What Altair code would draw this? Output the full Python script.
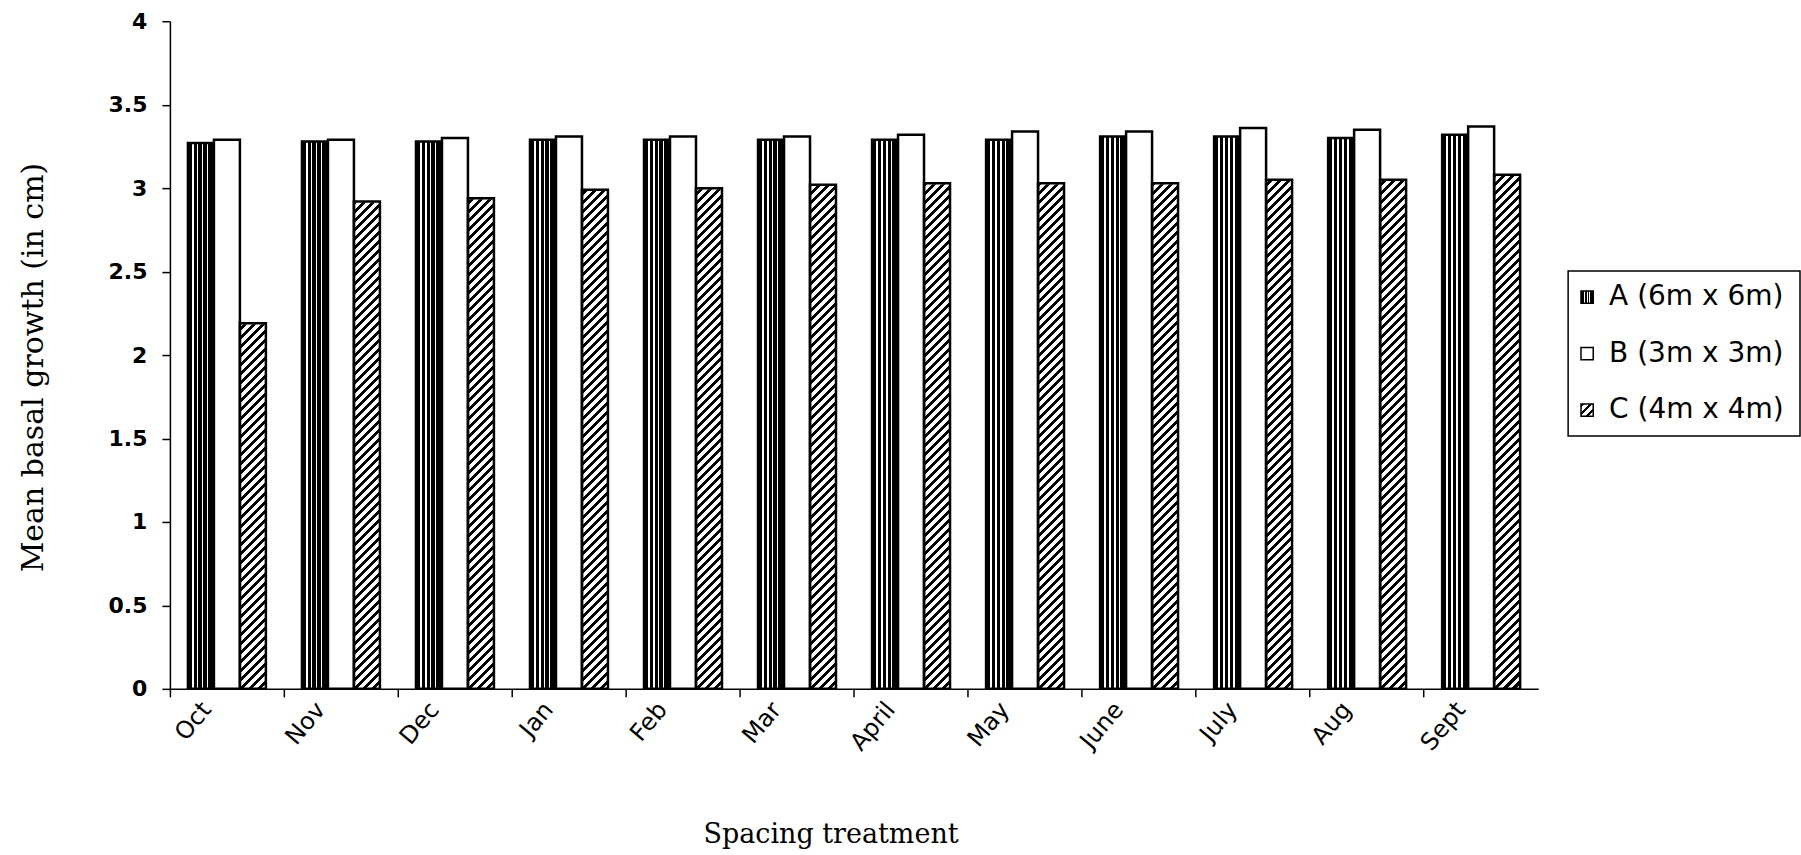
import altair as alt
import pandas as pd

# ---------------- data ----------------
months = ["Oct", "Nov", "Dec", "Jan", "Feb", "Mar", "April", "May", "June", "July", "Aug", "Sept"]
series_keys = ["A", "B", "C"]
series_labels = ["A (6m x 6m)", "B (3m x 3m)", "C (4m x 4m)"]
values_A = [3.27, 3.28, 3.28, 3.29, 3.29, 3.29, 3.29, 3.29, 3.31, 3.31, 3.30, 3.32]
values_B = [3.29, 3.29, 3.30, 3.31, 3.31, 3.31, 3.32, 3.34, 3.34, 3.36, 3.35, 3.37]
values_C = [2.19, 2.92, 2.94, 2.99, 3.00, 3.02, 3.03, 3.03, 3.03, 3.05, 3.05, 3.08]
y_ticks = [0, 0.5, 1, 1.5, 2, 2.5, 3, 3.5, 4]

rows = []
for i, m in enumerate(months):
    for k, vals in zip(series_keys, [values_A, values_B, values_C]):
        rows.append({"month": m, "series": k, "value": vals[i]})
df = pd.DataFrame(rows)
month_df = pd.DataFrame({"month": months})
legend_df = pd.DataFrame({"series": series_keys, "label": series_labels})

# ---------------- layout / style ----------------
PLOT_W, PLOT_H = 1369, 668
STEP = PLOT_W / len(months)
OFF_PAD = 0.694
BAR_W = STEP / (3 + 2 * OFF_PAD)
Y_MAX = y_ticks[-1]


def stripes(bounds):
    """bounds: list of (start, end) white stripe fractions on black."""
    stops = []
    for s, e in bounds:
        stops += [alt.GradientStop(offset=s, color="black"),
                  alt.GradientStop(offset=s, color="white"),
                  alt.GradientStop(offset=e, color="white"),
                  alt.GradientStop(offset=e, color="black")]
    return [alt.GradientStop(offset=0, color="black")] + stops + [alt.GradientStop(offset=1, color="black")]


def hatch_stops(n, black_frac):
    stops = []
    for i in range(n):
        a = i / n
        b = (i + black_frac) / n
        c = (i + 1) / n
        stops += [alt.GradientStop(offset=a, color="black"),
                  alt.GradientStop(offset=b, color="black"),
                  alt.GradientStop(offset=b, color="white"),
                  alt.GradientStop(offset=c, color="white")]
    return stops


# vertical stripes for A
grad_A = alt.LinearGradient(gradient="linear", x1=0, y1=0, x2=1, y2=0,
                            stops=stripes([(0.16, 0.215), (0.35, 0.405), (0.54, 0.595), (0.73, 0.785)]))
grad_A_sw = alt.LinearGradient(gradient="linear", x1=0, y1=0, x2=1, y2=0,
                               stops=stripes([(0.27, 0.35), (0.48, 0.56), (0.69, 0.77)]))

# 45 degree "/" hatch for C, full-column rectangles (w x h)
w, h = BAR_W, PLOT_H
kk = (w + h) / (w * w + h * h)
n_per = round((w + h) / 9.0)
grad_C = alt.LinearGradient(gradient="linear", x1=0, y1=0, x2=kk * w, y2=kk * h,
                            stops=hatch_stops(n_per, 0.45))
grad_C_sw = alt.LinearGradient(gradient="linear", x1=0, y1=0, x2=1, y2=1,
                               stops=hatch_stops(3, 0.45))

x_scale = alt.Scale(domain=months, paddingInner=0, paddingOuter=0)
x_axis = alt.Axis(title="Spacing treatment", bandPosition=0, labels=False,
                  tickSize=8, tickWidth=1.5, tickColor="black",
                  domainColor="black", domainWidth=1.5,
                  titleFont="DejaVu Serif", titleFontSize=27, titleFontWeight="normal",
                  titleColor="black", titleX=661, titleY=146, titleAlign="center",
                  titleBaseline="middle", zindex=1)
x_enc = alt.X("month:N", sort=months, scale=x_scale, axis=x_axis)
xo_enc = alt.XOffset("series:N", scale=alt.Scale(domain=series_keys, paddingInner=0, paddingOuter=OFF_PAD))
y_axis = alt.Axis(title="Mean basal growth (in cm)", values=y_ticks, format="~g", grid=False,
                  tickSize=8, tickWidth=1.5, tickColor="black", domainColor="black", domainWidth=1.5,
                  labelPadding=15, labelFont="DejaVu Sans", labelFontWeight="bold", labelFontSize=22,
                  labelColor="black", titleFont="DejaVu Serif", titleFontSize=30,
                  titleFontWeight="normal", titleColor="black", titleX=-136, titleY=346,
                  titleAlign="center", titleBaseline="middle", zindex=1)
y_scale = alt.Scale(domain=[0, Y_MAX], nice=False)

base = alt.Chart(df)
c_only = base.transform_filter(alt.datum.series == "C")

hatch_bg = c_only.mark_bar(fill=grad_C, strokeWidth=0).encode(
    x=x_enc, xOffset=xo_enc,
    y=alt.Y(datum=Y_MAX, type="quantitative", scale=y_scale, axis=y_axis),
    y2=alt.Y2(datum=0))
white_out = c_only.mark_bar(fill="white", stroke="white", strokeWidth=2).encode(
    x=x_enc, xOffset=xo_enc, y=alt.Y("value:Q"), y2=alt.Y2(datum=Y_MAX))
bars_A = base.transform_filter(alt.datum.series == "A").mark_bar(
    fill=grad_A, stroke="black", strokeWidth=2.5).encode(
    x=x_enc, xOffset=xo_enc, y=alt.Y("value:Q"))
bars_B = base.transform_filter(alt.datum.series == "B").mark_bar(
    fill="white", stroke="black", strokeWidth=2.5).encode(
    x=x_enc, xOffset=xo_enc, y=alt.Y("value:Q"))
bars_C = c_only.mark_bar(fill="white", fillOpacity=0, stroke="black", strokeWidth=2.5).encode(
    x=x_enc, xOffset=xo_enc, y=alt.Y("value:Q"))

# rotated category labels
month_labels = alt.Chart(month_df).mark_text(
    angle=310, align="right", baseline="middle", xOffset=-20,
    font="DejaVu Sans", fontSize=24, color="black").encode(
    x=alt.X("month:N", sort=months, scale=x_scale, axis=x_axis),
    y=alt.value(PLOT_H + 17), text="month:N")

main = alt.layer(hatch_bg, white_out, bars_A, bars_B, bars_C, month_labels).properties(
    width=PLOT_W, height=PLOT_H)

# ---------------- legend ----------------
LEG_W, LEG_H = 232, 165
leg_y = alt.Y("series:N", sort=series_keys,
              scale=alt.Scale(type="point", domain=series_keys, padding=0.46), axis=None)
lbase = alt.Chart(legend_df)
sw_A = lbase.transform_filter(alt.datum.series == "A").mark_square(
    size=150, fill=grad_A_sw, stroke="black", strokeWidth=1.5, opacity=1).encode(
    x=alt.value(19), y=leg_y)
sw_B = lbase.transform_filter(alt.datum.series == "B").mark_square(
    size=150, fill="white", stroke="black", strokeWidth=1.5, opacity=1).encode(
    x=alt.value(19), y=leg_y)
sw_C = lbase.transform_filter(alt.datum.series == "C").mark_square(
    size=150, fill=grad_C_sw, stroke="black", strokeWidth=1.5, opacity=1).encode(
    x=alt.value(19), y=leg_y)
leg_text = lbase.mark_text(align="left", baseline="middle", font="DejaVu Sans",
                           fontSize=28, color="black").encode(
    x=alt.value(41), y=leg_y, text="label:N")
legend = alt.layer(sw_A, sw_B, sw_C, leg_text).properties(
    width=LEG_W, height=LEG_H, view=alt.ViewBackground(stroke="black", strokeWidth=1.5))

spacer = alt.Chart(pd.DataFrame({"v": [0]})).mark_point(opacity=0, size=1).encode(
    x=alt.value(0), y=alt.value(0)).properties(width=LEG_W, height=249)

legend_col = alt.vconcat(spacer, legend, spacing=0)

chart = alt.hconcat(main, legend_col, spacing=29).properties(
    padding={"left": 19, "top": 10, "right": 0, "bottom": 7},
    background="white").configure_view(stroke=None)

chart.save("out.html", embed_options={"renderer": "svg", "actions": False})
